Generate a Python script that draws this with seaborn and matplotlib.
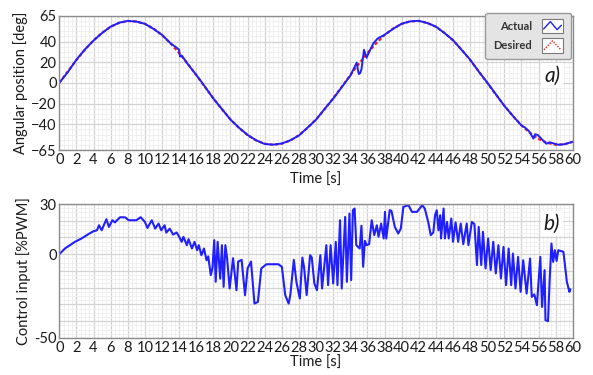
import numpy as np
import pandas as pd
import matplotlib
matplotlib.use("Agg")
import matplotlib.pyplot as plt
import seaborn as sns
from matplotlib.ticker import MultipleLocator, FixedLocator, FuncFormatter
from matplotlib.legend_handler import HandlerBase
from matplotlib.patches import Rectangle
from matplotlib.lines import Line2D

# ---------------- data ----------------
desired_t = list(range(0, 61))
desired_deg = [0, 11.2, 22.1, 32.2, 41.1, 48.5, 54.3, 58.1, 59.9, 59.5, 57.1, 52.6, 46.3, 38.2,
               28.9, 18.5, 7.5, -3.8, -14.9, -25.6, -35.3, -43.7, -50.6, -55.8, -58.9, -60,
               -58.9, -55.8, -50.6, -43.7, -35.3, -25.6, -14.9, -3.8, 7.5, 18.5, 28.9, 38.2,
               46.3, 52.6, 57.1, 59.5, 59.9, 58.1, 54.3, 48.5, 41.1, 32.2, 22.1, 11.2, 0,
               -11.2, -22.1, -32.2, -41.1, -48.5, -54.3, -58.1, -59.9, -59.5, -57.1]

actual_t = [0, 1, 2, 3, 4, 5, 6, 7, 8, 9, 10, 11, 12, 13, 13.8, 14.0, 14.1, 14.3, 15, 16, 17,
            18, 19, 20, 21, 22, 23, 24, 25, 26, 27, 28, 29, 30, 31, 32, 33, 34, 34.75, 34.9,
            35.0, 35.15, 35.3, 35.6, 35.9, 36.2, 36.7, 37.2, 38, 39, 40, 41, 42, 43, 44, 45,
            46, 47, 48, 49, 50, 51, 52, 53, 54, 54.4, 54.9, 55.4, 55.6, 55.9, 56.2, 56.5,
            56.9, 57.3, 57.7, 58.3, 59, 60]
actual_deg = [0, 10.5, 22.5, 32.5, 41, 48.3, 54.5, 58.3, 60, 59.3, 57.2, 52.3, 46.5, 38.3,
              33.5, 32.0, 25.5, 26.5, 18.3, 7.8, -3.5, -15.2, -25.3, -35.6, -43.5, -50.4,
              -55.6, -59.2, -59.8, -58.7, -55.6, -51, -43.3, -35.6, -25.2, -15.3, -4.2, 7.0,
              19.6, 12.0, 8.6, 9.5, 13.0, 32.0, 24.3, 30.0, 38.4, 43.0, 46.5, 52.3, 57.3,
              59.6, 60.1, 57.9, 54.5, 48.2, 41.4, 32.0, 22.5, 11.0, 0.3, -11.0, -22.3,
              -32.0, -41.3, -43.2, -47.0, -54.0, -49.7, -50.5, -53.0, -55.7, -58.9, -57.5,
              -58.5, -59.9, -59.4, -57.0]

control_t = [0, 0.66, 1.25, 1.83, 2.6, 3.4, 3.98, 4.4, 4.64, 4.95, 5.5, 5.8, 6.2, 6.5, 7.1,
             7.7, 8.1, 9.0, 9.5, 10.0, 10.3, 10.8, 11.2, 11.6, 11.9, 12.3, 12.5, 12.9, 13.3,
             13.7, 13.9, 14.3, 14.5, 14.9, 15.1, 15.5, 15.8, 16.1, 16.3, 16.6, 16.9, 17.2,
             17.4, 17.7, 17.9, 18.1, 18.27, 18.5, 18.8, 19.0, 19.2, 19.4, 19.6, 19.9, 20.3,
             20.7, 20.9, 21.3, 21.7, 22.0, 22.4, 22.8, 23.2, 23.6, 24.2, 25.6, 26.0, 26.4,
             26.8, 27.0, 27.4, 27.7, 28.1, 28.4, 28.6, 28.9, 29.3, 29.5, 29.8, 30.1, 30.5,
             30.7, 31.2, 31.4, 31.7, 32.0, 32.3, 32.5, 32.8, 33.0, 33.4, 33.6, 33.9, 34.1,
             34.3, 34.5, 34.7, 35.1, 35.3, 35.5, 35.7, 35.9, 36.2, 36.5, 36.8, 37.1, 37.3,
             37.6, 37.9, 38.05, 38.2, 38.6, 38.8, 39.2, 39.6, 39.9, 40.2, 40.8, 41.2, 41.8,
             42.4, 42.7, 43.1, 43.4, 43.7, 43.9, 44.1, 44.3, 44.5, 44.6, 44.9, 45.05, 45.3,
             45.5, 45.8, 46.0, 46.3, 46.6, 46.9, 47.2, 47.6, 47.8, 48.2, 48.5, 48.8, 49.0,
             49.3, 49.5, 49.8, 50.1, 50.4, 50.7, 51.0, 51.3, 51.6, 51.9, 52.2, 52.5, 52.8,
             53.0, 53.3, 53.6, 53.9, 54.2, 54.6, 55.0, 55.2, 55.5, 55.8, 56.2, 56.4, 56.7,
             56.8, 57.1, 57.3, 57.5, 57.7, 57.9, 58.1, 58.3, 58.9, 59.3, 59.6, 59.7]
control_pwm = [0, 3.4, 5.4, 7.4, 9.4, 12, 13.7, 14.3, 17.3, 14.3, 20.9, 16.3, 20.3, 19, 22.1,
               22, 20.3, 20.3, 22.1, 19.3, 15.7, 20.3, 15.3, 18.3, 14.3, 17.3, 12.9, 15.3,
               11.7, 13, 11.4, 7.4, 10.4, 5.4, 9, 3.4, 7.4, 2.4, 5.4, -0.6, 3.4, -3.6, -1.3,
               -12.5, -8, 8.4, -16.5, 7.4, -14.6, 5.4, -19.5, 5.4, -2, -20.5, -2.4, -21.5,
               -4.4, -3.4, -24.5, -8.4, -4.4, -29.5, -28.5, -8.5, -6, -6, -7.5, -24.5, -29.5,
               -24, -3.4, -16.5, -26.5, -2, -8, -24.4, -0.6, -2, -17.5, -21.5, -0.6, -20.5,
               5.4, -18.5, 5.4, -17.5, 7.4, -18.5, 20.3, -20.5, 22.3, -16.5, 24.3, -15.5,
               26.3, 27.3, 5.4, 3.4, 17, -7.5, 8, 5.4, 6, 20.3, 11.4, 17.3, 10.4, 18.3, 9.4,
               25.3, 9.4, 26.3, 26, 16.3, 12.4, 15.3, 28.3, 29.3, 25.3, 25.3, 29.3, 27.3, 19.3,
               11.4, 13, 23.3, 26.3, 14.3, 23.3, 9.4, 27.3, 9.4, 19.3, 9.4, 21.3, 7.4, 19,
               7.4, 18.3, 6, 18.3, 5.4, 19.3, 18, -6.5, 16.3, -6.5, 13.4, -8.5, 9.4, -9.5,
               7.4, -11.5, 5.4, -14.5, 4.4, -18.5, 3.4, -18.5, 0.4, -20.5, -1.6, -22.5, -3.6,
               -23.5, -2.6, -25.5, -24, -30.5, -1.6, -31.5, -9.5, -39.4, -40, -14.5, 6.4,
               -4.6, 2.4, -4, 2.4, 1.4, -16.5, -22.5, -21]

x_ticks = list(range(0, 61, 2))
top_yticks = [-65, -40, -20, 0, 20, 40, 65]
bottom_ytick_labels = [-50, 0, 30]

# ---------------- style ----------------
sns.set_style("white")
plt.rcParams['font.family'] = ['Lato', 'DejaVu Sans']
plt.rcParams['font.size'] = 10
TXT = '#1a1a1a'

fig = plt.figure(figsize=(5.93, 3.75), dpi=100)
ax1 = fig.add_axes([0.100, 0.600, 0.866, 0.358])
ax2 = fig.add_axes([0.100, 0.099, 0.866, 0.357])


def style_axes(ax, lpad):
    ax.set_xlim(0, 60)
    ax.xaxis.set_major_locator(FixedLocator(x_ticks))
    ax.xaxis.set_minor_locator(MultipleLocator(0.5))
    ax.grid(which='major', color='#d3d3d3', lw=0.9)
    ax.grid(which='minor', color='#eeeeee', lw=0.6)
    ax.set_axisbelow(True)
    ax.tick_params(which='both', length=0, pad=2, labelsize=10.5, colors=TXT)
    for s in ax.spines.values():
        s.set_color('#8c8c8c')
        s.set_linewidth(1.0)
    ax.set_xlabel('Time [s]', fontsize=10.5, color=TXT, labelpad=lpad)


# ---------------- top chart ----------------
sns.lineplot(x=desired_t, y=desired_deg, ax=ax1, color='#e8231c', lw=1.6,
             linestyle=(0, (1.5, 1)), sort=False, estimator=None)
sns.lineplot(x=actual_t, y=actual_deg, ax=ax1, color='#1f1fff', lw=1.4,
             sort=False, estimator=None, solid_joinstyle='round')
style_axes(ax1, 4)
ax1.set_ylim(-65, 65)
ax1.yaxis.set_major_locator(FixedLocator(top_yticks))
ax1.yaxis.set_minor_locator(MultipleLocator(5))
ax1.set_ylabel('Angular position [deg]', fontsize=10.5, color=TXT, labelpad=2)
ax1.text(0.975, 0.555, 'a)', transform=ax1.transAxes, ha='right', va='center',
         fontsize=15, style='italic', color=TXT,
         bbox=dict(facecolor='white', edgecolor='none', pad=2))


class FramedZigzag(HandlerBase):
    def __init__(self, color, dotted):
        super().__init__()
        self.color = color
        self.dotted = dotted

    def create_artists(self, legend, orig_handle, xdescent, ydescent, width, height,
                       fontsize, trans):
        x0, y0 = -xdescent, -ydescent - 2
        w, h = width, height + 4
        rect = Rectangle((x0, y0), w, h, facecolor='white', edgecolor='#7a7a7a',
                         lw=0.8, transform=trans)
        if self.dotted:
            fx = [0.1, 0.5, 0.9]
            fy = [0.2, 0.8, 0.2]
        else:
            fx = [0.08, 0.4, 0.72, 0.92]
            fy = [0.3, 0.8, 0.25, 0.55]
        xs = [x0 + f * w for f in fx]
        ys = [y0 + f * h for f in fy]
        line = Line2D(xs, ys, color=self.color, lw=1.0,
                      linestyle=(0, (1, 1)) if self.dotted else '-', transform=trans)
        return [rect, line]


h_act = Line2D([], [], color='#1f1fff', label='Actual')
h_des = Line2D([], [], color='#e8231c', label='Desired')
leg = ax1.legend(handles=[h_act, h_des], loc='upper right', bbox_to_anchor=(0.996, 1.02),
                 markerfirst=False, fontsize=8, handlelength=1.9, handleheight=0.9,
                 labelspacing=0.75, borderpad=0.7, handletextpad=0.9, frameon=True,
                 fancybox=True, framealpha=1, borderaxespad=0.0,
                 handler_map={h_act: FramedZigzag('#1f1fff', False),
                              h_des: FramedZigzag('#e8231c', True)})
leg.get_frame().set_facecolor('#e4e4e4')
leg.get_frame().set_edgecolor('#9a9a9a')
for t in leg.get_texts():
    t.set_fontweight('bold')
    t.set_color('#333333')

# ---------------- bottom chart ----------------
sns.lineplot(x=control_t, y=control_pwm, ax=ax2, color='#1f1fff', lw=1.5,
             sort=False, estimator=None, solid_joinstyle='round')
style_axes(ax2, 1)
ax2.set_ylim(-50, 30)
ax2.yaxis.set_major_locator(MultipleLocator(10))
ax2.yaxis.set_minor_locator(MultipleLocator(2.5))
ax2.yaxis.set_major_formatter(FuncFormatter(
    lambda v, p: f'{int(round(v))}' if int(round(v)) in bottom_ytick_labels else ''))
ax2.set_ylabel('Control input [%PWM]', fontsize=10.5, color=TXT, labelpad=2)
ax2.text(0.975, 0.855, 'b)', transform=ax2.transAxes, ha='right', va='center',
         fontsize=15, style='italic', color=TXT,
         bbox=dict(facecolor='white', edgecolor='none', pad=2))

fig.savefig('out.png', dpi=100)
